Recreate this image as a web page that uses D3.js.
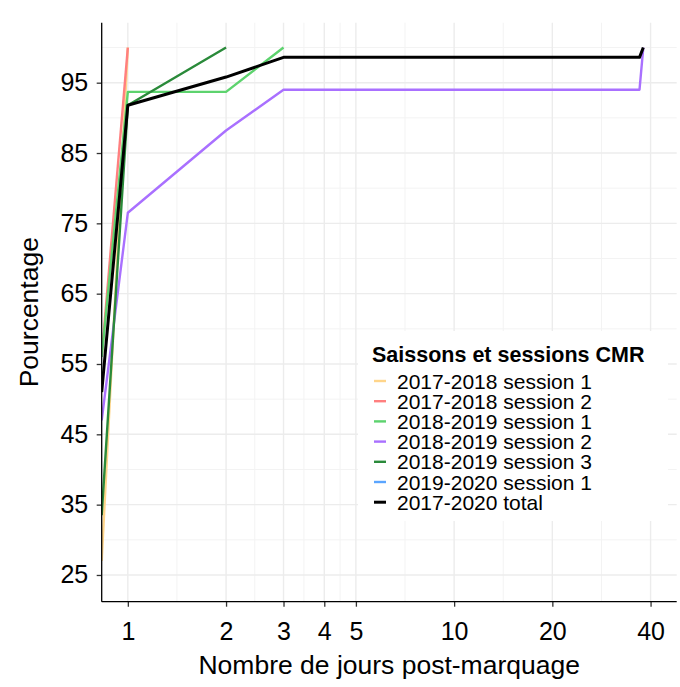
<!DOCTYPE html>
<html>
<head>
<meta charset="utf-8">
<script src="https://cdn.jsdelivr.net/npm/d3@7"></script>
<style>
  html, body { margin: 0; padding: 0; background: #ffffff; }
  svg { display: block; font-family: "Liberation Sans", Arial, sans-serif; }
</style>
</head>
<body>
<svg id="chart" width="680" height="687"></svg>
<script>
// ---- data ----
const seriesNames = [
  "2017-2018 session 1",
  "2017-2018 session 2",
  "2018-2019 session 1",
  "2018-2019 session 2",
  "2018-2019 session 3",
  "2019-2020 session 1",
  "2017-2020 total"
];
const seriesColors = ["#FFD58A", "#FF7F7F", "#5DD36E", "#A970FF", "#2A8A3A", "#5AA5FF", "#000000"];
// days post-marking (0 = day of marking, drawn at the panel edge on the log axis)
const days_1718s1 = [0, 1];
const pct_1718s1  = [27, 100];
const days_1718s2 = [0, 1];
const pct_1718s2  = [56, 100];
const days_1819s1 = [0, 1, 2, 3];
const pct_1819s1  = [56, 93.7, 93.7, 100];
const days_1819s2 = [0, 1, 2, 3, 37, 38];
const pct_1819s2  = [47, 76.5, 88.2, 94, 94, 100];
const days_1819s3 = [0, 1, 2];
const pct_1819s3  = [33.5, 91.8, 100];
const days_1920s1 = [];
const pct_1920s1  = [];
const days_total  = [0, 1, 2, 3, 37, 38];
const pct_total   = [51, 91.8, 95.8, 98.6, 98.6, 100];

const xTicks = [1, 2, 3, 4, 5, 10, 20, 40];
const yTicks = [25, 35, 45, 55, 65, 75, 85, 95];
const yMinor = [30, 40, 50, 60, 70, 80, 90, 100];

const allDays = [days_1718s1, days_1718s2, days_1819s1, days_1819s2, days_1819s3, days_1920s1, days_total];
const allPct  = [pct_1718s1, pct_1718s2, pct_1819s1, pct_1819s2, pct_1819s3, pct_1920s1, pct_total];

// ---- layout ----
const L = 101.7, R = 676.7, T = 22.7, B = 601.7;
const svg = d3.select("#chart");

// log x with 5% expansion of [1, 40] in log space
const lo = 0, hi = Math.log10(40), ex = (hi - lo) * 0.05;
const x = d3.scaleLog().domain([Math.pow(10, lo - ex), Math.pow(10, hi + ex)]).range([L, R]);
const y = d3.scaleLinear().domain([21.2, 103.53]).range([B, T]);
const xpos = d => d <= 0 ? L : x(d);

// grid
const grid = svg.append("g");
const lmaj = xTicks.map(Math.log10);
const xMinor = [];
for (let i = 0; i < lmaj.length - 1; i++) xMinor.push(Math.pow(10, (lmaj[i] + lmaj[i + 1]) / 2));
grid.selectAll(".xminor").data(xMinor).enter().append("line")
  .attr("x1", d => x(d)).attr("x2", d => x(d)).attr("y1", T).attr("y2", B)
  .attr("stroke", "#f3f3f3").attr("stroke-width", 1);
grid.selectAll(".yminor").data(yMinor).enter().append("line")
  .attr("x1", L).attr("x2", R).attr("y1", d => y(d)).attr("y2", d => y(d))
  .attr("stroke", "#f3f3f3").attr("stroke-width", 1);
grid.selectAll(".xmajor").data(xTicks).enter().append("line")
  .attr("x1", d => x(d)).attr("x2", d => x(d)).attr("y1", T).attr("y2", B)
  .attr("stroke", "#ececec").attr("stroke-width", 1.4);
grid.selectAll(".ymajor").data(yTicks).enter().append("line")
  .attr("x1", L).attr("x2", R).attr("y1", d => y(d)).attr("y2", d => y(d))
  .attr("stroke", "#ececec").attr("stroke-width", 1.4);

// lines
const line = d3.line().x(d => xpos(d[0])).y(d => y(d[1]));
svg.append("defs").append("clipPath").attr("id", "clip")
  .append("rect").attr("x", L).attr("y", T).attr("width", R - L).attr("height", B - T);
const lg = svg.append("g").attr("clip-path", "url(#clip)");
seriesNames.forEach((name, i) => {
  const pts = allDays[i].map((d, j) => [d, allPct[i][j]]);
  if (pts.length < 2) return;
  lg.append("path").datum(pts)
    .attr("d", line)
    .attr("fill", "none")
    .attr("stroke", seriesColors[i])
    .attr("stroke-width", i === 6 ? 3 : 2.4)
    .attr("stroke-linejoin", "round");
});

// axes
const xAxis = d3.axisBottom(x).tickValues(xTicks).tickFormat(d3.format("d")).tickSize(5).tickPadding(16);
const yAxis = d3.axisLeft(y).tickValues(yTicks).tickSize(5).tickPadding(8.5);
const gx = svg.append("g").attr("transform", `translate(0,${B})`).call(xAxis);
const gy = svg.append("g").attr("transform", `translate(${L},0)`).call(yAxis);
[gx, gy].forEach(g => {
  g.select(".domain").remove();
  g.selectAll(".tick line").attr("stroke", "#333").attr("stroke-width", 1.3);
  g.selectAll(".tick text").attr("fill", "#000").style("font-size", "25px")
    .style("font-family", "'Liberation Sans', Arial, sans-serif");
});
svg.append("line").attr("x1", L).attr("x2", R).attr("y1", B).attr("y2", B).attr("stroke", "#000").attr("stroke-width", 1.3);
svg.append("line").attr("x1", L).attr("x2", L).attr("y1", T).attr("y2", B).attr("stroke", "#000").attr("stroke-width", 1.3);

// axis titles
svg.append("text").attr("x", (L + R) / 2).attr("y", 674).attr("text-anchor", "middle")
  .style("font-size", "26.5px").attr("fill", "#000").text("Nombre de jours post-marquage");
svg.append("text").attr("transform", `translate(38,${(T + B) / 2}) rotate(-90)`).attr("text-anchor", "middle")
  .style("font-size", "26.5px").attr("fill", "#000").text("Pourcentage");

// legend
const lgX = 358, lgY = 331;
const leg = svg.append("g");
leg.append("rect").attr("x", lgX).attr("y", lgY).attr("width", 310).attr("height", 190).attr("fill", "#fff");
leg.append("text").attr("x", 372).attr("y", 362).style("font-size", "21.5px").style("font-weight", "bold")
  .attr("fill", "#000").text("Saissons et sessions CMR");
seriesNames.forEach((name, i) => {
  const cy = 381 + i * 20.2;
  leg.append("line").attr("x1", 374).attr("x2", 386).attr("y1", cy).attr("y2", cy)
    .attr("stroke", seriesColors[i]).attr("stroke-width", i === 6 ? 3 : 2.4);
  leg.append("text").attr("x", 397).attr("y", cy).attr("dy", "0.36em")
    .style("font-size", "21px").attr("fill", "#000").text(name);
});
</script>
</body>
</html>
